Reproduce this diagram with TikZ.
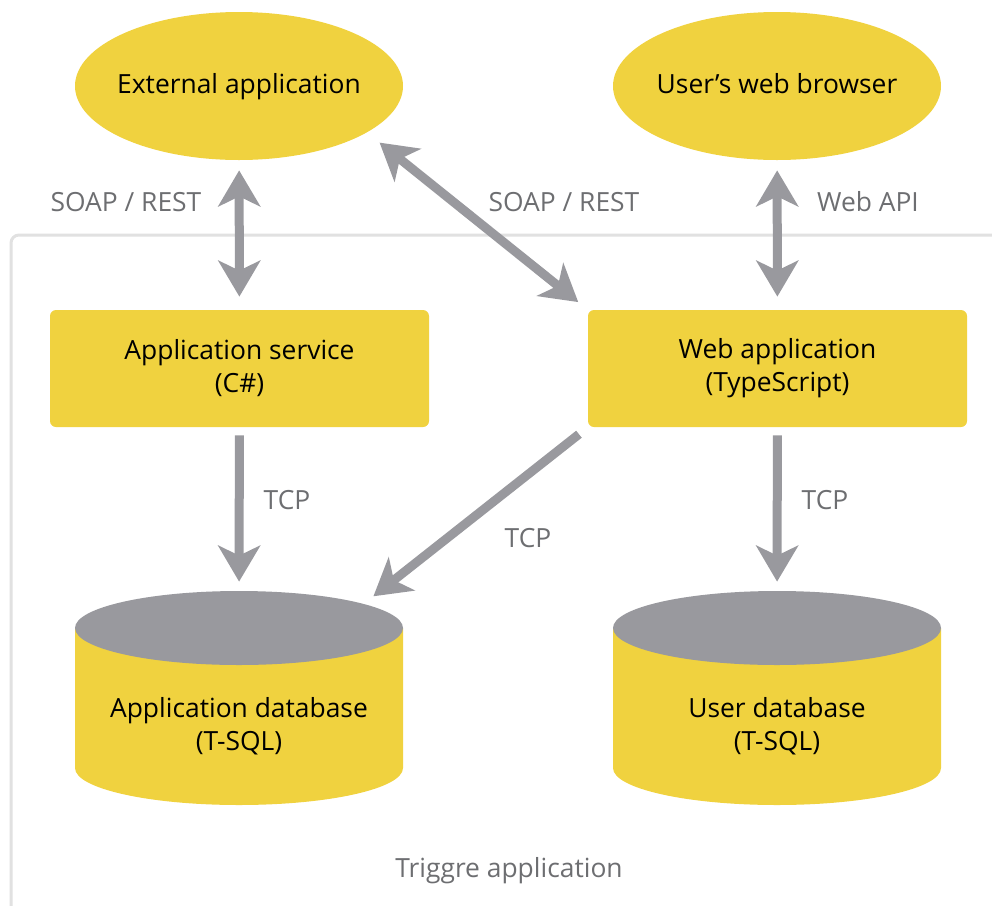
\documentclass[tikz,border=0pt]{standalone}
\usepackage{fontspec}
\setmainfont{Open Sans}
\usepackage{tikz}
\usetikzlibrary{arrows.meta,positioning,shapes.geometric}
\definecolor{trgyellow}{HTML}{F0D23F}
\definecolor{trggray}{HTML}{99999E}
\definecolor{trgtext}{HTML}{6D6E71}
\definecolor{trgframe}{HTML}{E1E1E1}
\tikzset{
  actor/.style={ellipse, fill=trgyellow, inner sep=-10pt, minimum width=164pt, minimum height=74pt, text height=10pt, text depth=3pt, font=\fontsize{13.2}{16.5}\selectfont},
  block/.style={fill=trgyellow, rounded corners=3pt, align=center, inner sep=0pt, minimum width=189.5pt, minimum height=58.5pt, font=\fontsize{13.2}{16.5}\selectfont},
  dbtop/.style={ellipse, fill=trggray, inner sep=0pt, minimum width=164pt, minimum height=37pt},
  dblabel/.style={align=center, font=\fontsize{13.2}{16.5}\selectfont},
  lbl/.style={text=trgtext, font=\fontsize{13.2}{16.5}\selectfont},
  link/.style={draw=trggray, line width=4.5pt, -{Stealth[length=18pt,width=21pt,inset=5pt]}},
  duplex/.style={draw=trggray, line width=4.5pt, {Stealth[length=18pt,width=21pt,inset=5pt]}-{Stealth[length=18pt,width=21pt,inset=5pt]}},
  boundary/.style={draw=trgframe, line width=1.5pt, rounded corners=4pt}
}

\begin{document}
\begin{tikzpicture}[x=0.5pt, y=-0.5pt]
\useasboundingbox (0,0) rectangle (992,906);
\draw[boundary] (11,235) rectangle (1012,930);

% clients
\node[actor] (ext) at (239,86) {External application};
\node[actor] (browser) at (777,86) {User’s web browser};

% services
\node[block] (appsvc) at (239.5,368.5) {Application service\\(C\#)};
\node[block] (webapp) at (777.5,368.5) {Web application\\(TypeScript)};

% databases
\fill[trgyellow] (75,628) -- (75,768) arc[start angle=180, end angle=360, x radius=82pt, y radius=18.5pt] -- (403,628) -- cycle;
\fill[trgyellow] (613,628) -- (613,768) arc[start angle=180, end angle=360, x radius=82pt, y radius=18.5pt] -- (941,628) -- cycle;
\node[dbtop] (appdbtop) at (239,628) {};
\node[dbtop] (userdbtop) at (777,628) {};
\node[dblabel] (appdb) at (239,726) {Application database\\(T-SQL)};
\node[dblabel] (userdb) at (777,726) {User database\\(T-SQL)};

% connections
\draw[duplex, shorten <=5pt, shorten >=6.5pt] (ext) -- (appsvc);
\draw[duplex, shorten <=8pt, shorten >=6pt] (ext.-20) -- (webapp.north west);
\draw[duplex, shorten <=5pt, shorten >=6.5pt] (browser) -- (webapp);
\draw[link, shorten <=4pt, shorten >=4.5pt] (appsvc) -- (appdbtop);
\draw[link, shorten <=5.5pt, shorten >=6pt] (webapp.south west) -- (appdbtop.11);
\draw[link, shorten <=4pt, shorten >=4.5pt] (webapp) -- (userdbtop);

\node[lbl] (soapl) at (126,202) {SOAP / REST};
\node[lbl] (soapr) at (564,202) {SOAP / REST};
\node[lbl] (webapi) at (868,202) {Web API};
\node[lbl] (tcpl) at (287,500) {TCP};
\node[lbl] (tcpm) at (528,538) {TCP};
\node[lbl] (tcpr) at (825,500) {TCP};
\node[lbl] (trg) at (509,871) {Triggre application};
\end{tikzpicture}
\end{document}
